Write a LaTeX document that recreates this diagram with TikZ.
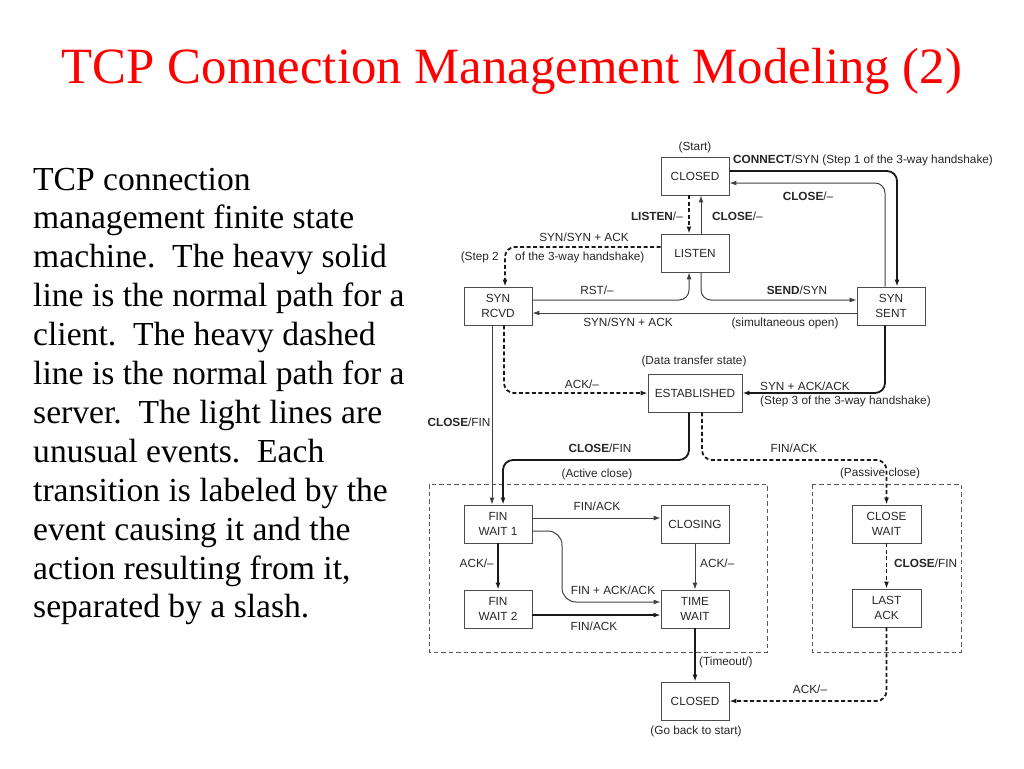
\documentclass[tikz,border=0pt]{standalone}
\usepackage{fontspec}
\setmainfont{Liberation Serif}
\setsansfont{Liberation Sans}
\usetikzlibrary{arrows.meta,calc}
\tikzset{>={Latex[length=7pt,width=5pt]}}
\tikzstyle{state}=[rectangle,draw=black!70,line width=0.9pt,minimum width=68pt,minimum height=38pt,align=center,inner sep=1pt,text=black!85,font=\sffamily\fontsize{11.8}{14.5}\selectfont]
\tikzstyle{lbl}=[inner sep=0pt,text=black!85,font=\sffamily\fontsize{11.8}{14}\selectfont]
\tikzstyle{heavy}=[->,line width=1.8pt,draw=black!90,rounded corners=10pt]
\tikzstyle{heavydash}=[heavy,dash pattern=on 4pt off 2.5pt]
\tikzstyle{light}=[->,line width=1pt,draw=black!75,rounded corners=10pt]
\tikzstyle{group}=[draw=black!65,line width=0.8pt,dash pattern=on 4.5pt off 3pt]

\begin{document}
\begin{tikzpicture}[x=1pt,y=-1pt]
\useasboundingbox (0,0) rectangle (1024,768);
\def \lead {38.9};
\def \tx {33};

% title and description
\node[anchor=base,inner sep=0pt,text=red,font=\fontsize{50.8}{60}\selectfont] (title)
	at (512,83) {TCP Connection Management Modeling (2)};

\foreach \ln [count=\k from 0] in {TCP connection,management finite state,
	machine.\ \ The heavy solid,line is the normal path for a,client.\ \ The heavy dashed,
	line is the normal path for a,server.\ \ The light lines are,unusual events.\ \ Each,
	transition is labeled by the,event causing it and the,{action resulting from it,},
	separated by a slash.} {
	\node[anchor=base west,inner sep=0pt,font=\fontsize{33.6}{38}\selectfont] (txt\k)
	at (\tx, {190 + \k * \lead}) {\ln};
};

% close phases
\draw[group] (429,484) rectangle (767,652);
\draw[group] (812,484) rectangle (961,652);

% states
\node[state] (closedT) at (695,176) {CLOSED};
\node[state] (listen) at (695,253) {LISTEN};
\node[state] (synrcvd) at (498,306) {SYN\\RCVD};
\node[state] (synsent) at (891,306) {SYN\\SENT};
\node[state,minimum width=94pt] (established) at (695,393) {ESTABLISHED};
\node[state] (finwait1) at (498,524) {FIN\\WAIT 1};
\node[state] (closing) at (695,524) {CLOSING};
\node[state] (finwait2) at (498,609) {FIN\\WAIT 2};
\node[state] (timewait) at (695,609) {TIME\\WAIT};
\node[state,minimum width=69pt] (closewait) at (886.5,524) {CLOSE\\WAIT};
\node[state,minimum width=69pt] (lastack) at (886.5,608) {LAST\\ACK};
\node[state] (closedB) at (695,701) {CLOSED};

\coordinate (midrow) at (0,460);
\coordinate (bend) at (562,602);
\coordinate (fw1in) at ([xshift=5pt]finwait1.north);

% transitions
\draw[heavy] ([yshift=5pt]closedT.east) -| ([xshift=6pt]synsent.north);
\draw[light] ([xshift=-6pt]synsent.north) |- ([yshift=-7pt]closedT.east);
\draw[heavydash] ([xshift=-6pt]closedT.south) -- ([xshift=-6pt]listen.north);
\draw[light] ([xshift=6pt]listen.north) -- ([xshift=6pt]closedT.south);
\draw[heavydash] ([yshift=6pt]listen.west) -| ([xshift=7pt]synrcvd.north);
\draw[light] ([yshift=6pt]synrcvd.east) -| ([xshift=-6pt]listen.south);
\draw[light] ([xshift=6pt]listen.south) |- ([yshift=6pt]synsent.west);
\draw[light] ([yshift=-7pt]synsent.west) -- ([yshift=-7pt]synrcvd.east);
\draw[heavydash] ([xshift=6pt]synrcvd.south) |- (established.west);
\draw[light] ([xshift=-6pt]synrcvd.south) -- ([xshift=-6pt]finwait1.north);
\draw[heavy] ([xshift=-6pt]synsent.south) |- (established.east);
\draw[heavy] ([xshift=-6pt]established.south) |- (fw1in |- midrow) -- (fw1in);
\draw[heavydash] ([xshift=7pt]established.south) |- (closewait.north |- midrow) -- (closewait.north);
\draw[light] ([yshift=6pt]finwait1.east) -- ([yshift=6pt]closing.west);
\draw[light,rounded corners=14pt] ([yshift=-7pt]finwait1.east) -| (bend) -- ([yshift=7pt]timewait.west);
\draw[heavy] (finwait1) -- (finwait2);
\draw[heavy] ([yshift=-6pt]finwait2.east) -- ([yshift=-6pt]timewait.west);
\draw[light] (closing) -- (timewait);
\draw[heavy] (timewait) -- (closedB);
\draw[heavydash] (closewait) -- (lastack);
\draw[heavydash] (lastack.south) |- (closedB.east);

% labels
\node[lbl] (start) at (695,147) {(Start)};
\node[lbl,anchor=west] (connect) at (733,160) {\textbf{CONNECT}/SYN (Step 1 of the 3-way handshake)};
\node[lbl] (closeA) at (808,196) {\textbf{CLOSE}/–};
\node[lbl,anchor=east] (listenlbl) at (683,216) {\textbf{LISTEN}/–};
\node[lbl,anchor=west] (closeB) at (712,216) {\textbf{CLOSE}/–};
\node[lbl] (synackA) at (584,237) {SYN/SYN + ACK};
\node[lbl,anchor=east] (steptwoA) at (499,257) {(Step 2};
\node[lbl,anchor=west] (steptwoB) at (515,257) {of the 3-way handshake)};
\node[lbl] (rst) at (597,290) {RST/–};
\node[lbl] (send) at (797,290) {\textbf{SEND}/SYN};
\node[lbl] (synackB) at (628,322) {SYN/SYN + ACK};
\node[lbl] (simul) at (785,323) {(simultaneous open)};
\node[lbl] (datatr) at (694,361) {(Data transfer state)};
\node[lbl] (ackA) at (582,384) {ACK/–};
\node[lbl,anchor=west] (synackC) at (760,386) {SYN + ACK/ACK};
\node[lbl,anchor=west] (stepthree) at (760,401) {(Step 3 of the 3-way handshake)};
\node[lbl] (closefinA) at (459,422) {\textbf{CLOSE}/FIN};
\node[lbl] (closefinB) at (600,448) {\textbf{CLOSE}/FIN};
\node[lbl] (active) at (597,474) {(Active close)};
\node[lbl] (finackA) at (794,448) {FIN/ACK};
\node[lbl] (passive) at (880,473) {(Passive close)};
\node[lbl] (finackB) at (597,506) {FIN/ACK};
\node[lbl] (finackack) at (613,590) {FIN + ACK/ACK};
\node[lbl,anchor=east] (ackB) at (494,563) {ACK/–};
\node[lbl] (finackC) at (594,626) {FIN/ACK};
\node[lbl,anchor=west] (ackC) at (700,563) {ACK/–};
\node[lbl,anchor=west] (closefinC) at (894,563) {\textbf{CLOSE}/FIN};
\node[lbl,anchor=west] (timeout) at (699,662) {(Timeout/)};
\node[lbl] (ackD) at (810,689) {ACK/–};
\node[lbl] (goback) at (696,731) {(Go back to start)};

\end{tikzpicture}
\end{document}
